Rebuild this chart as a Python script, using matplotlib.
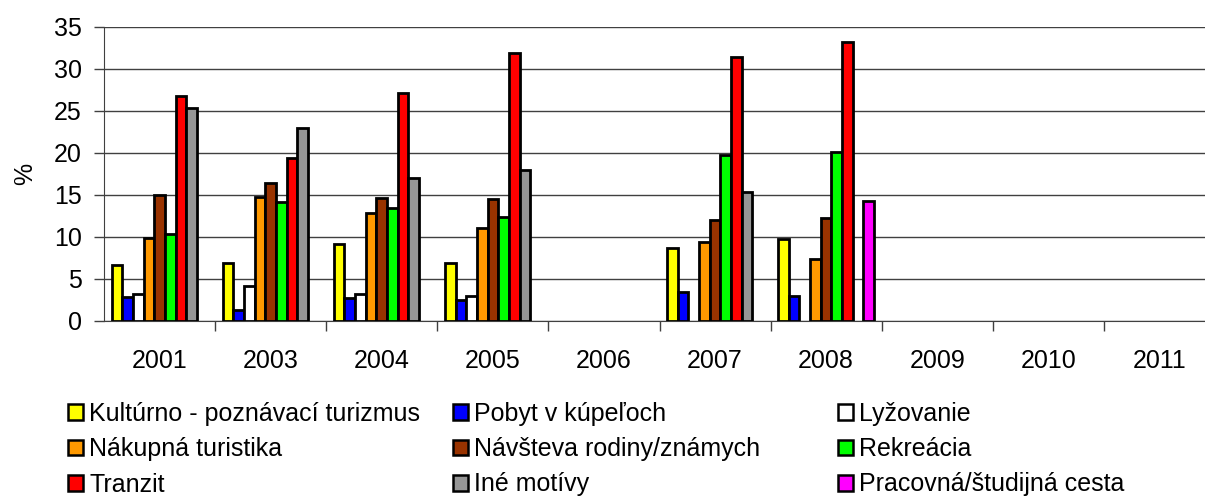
import numpy as np
import matplotlib
matplotlib.use('Agg')
import matplotlib.pyplot as plt
from matplotlib.patches import Patch

plt.rcParams['font.family'] = ['Liberation Sans', 'DejaVu Sans']

years = ['2001', '2003', '2004', '2005', '2006', '2007', '2008', '2009', '2010', '2011']
n = np.nan

kulturno   = [6.7, 6.9, 9.2, 6.9, n, 8.7, 9.8, n, n, n]
kupele     = [2.8, 1.3, 2.7, 2.5, n, 3.4, 3.0, n, n, n]
lyzovanie  = [3.2, 4.2, 3.2, 3.0, n, n, n, n, n, n]
nakupna    = [9.9, 14.8, 12.8, 11.1, n, 9.4, 7.4, n, n, n]
navsteva   = [15.0, 16.4, 14.6, 14.5, n, 12.0, 12.2, n, n, n]
rekreacia  = [10.3, 14.1, 13.4, 12.4, n, 19.7, 20.1, n, n, n]
tranzit    = [26.7, 19.4, 27.1, 31.9, n, 31.4, 33.2, n, n, n]
ine        = [25.3, 22.9, 17.0, 18.0, n, 15.4, n, n, n, n]
pracovna   = [n, n, n, n, n, n, 14.3, n, n, n]

series = [kulturno, kupele, lyzovanie, nakupna, navsteva, rekreacia, tranzit, ine, pracovna]
names = ['Kultúrno - poznávací turizmus', 'Pobyt v kúpeľoch', 'Lyžovanie',
         'Nákupná turistika', 'Návšteva rodiny/známych', 'Rekreácia',
         'Tranzit', 'Iné motívy', 'Pracovná/študijná cesta']
colors = ['#FFFF00', '#0000FF', '#FFFFFF', '#FF9900', '#993300', '#00FF00',
          '#FF0000', '#969696', '#FF00FF']

fig = plt.figure(figsize=(12.05, 4.96), dpi=100)
ax = fig.add_axes([104/1205, 1 - 321/496, 1111/1205, 294.3/496])

x = np.arange(len(years))
nser = len(series)
width = 0.864 / nser
for i, (vals, c) in enumerate(zip(series, colors)):
    off = (i - (nser - 1) / 2.) * width
    ax.bar(x + off, vals, width, color=c, edgecolor='black', linewidth=2, zorder=3)

ax.set_xlim(-0.5, len(years) - 0.5)
ax.set_ylim(0, 35)
ax.set_yticks(range(0, 36, 5))
ax.set_xticks(x)
ax.set_xticklabels(years)
ax.set_xticks(np.arange(0.5, len(years) - 0.5, 1), minor=True)
ax.tick_params(axis='x', which='major', length=0, pad=20, labelsize=18)
ax.tick_params(axis='x', which='minor', length=7, width=1, color='#404040')
ax.tick_params(axis='y', length=7, width=1, color='#404040', labelsize=18, pad=9)
ax.yaxis.grid(True, color='#404040', linewidth=1, zorder=0)
ax.set_axisbelow(True)
for s in ['top', 'right']:
    ax.spines[s].set_visible(False)
ax.spines['left'].set_color('#404040')
ax.spines['bottom'].set_color('#404040')
ax.set_ylabel('%', fontsize=18, labelpad=12)

handles = [Patch(facecolor=c, edgecolor='black', linewidth=1.8) for c in colors]
colx = [68, 453, 838]
for k in range(3):
    idx = [k, k + 3, k + 6]
    fig.legend([handles[j] for j in idx], [names[j] for j in idx],
               loc='upper left', bbox_to_anchor=(colx[k] / 1205, 1 - 402 / 496),
               frameon=False, fontsize=18, handlelength=0.6, handleheight=0.6,
               handletextpad=0.25, labelspacing=0.45, borderpad=0, borderaxespad=0)

fig.savefig('out.png', dpi=100)
